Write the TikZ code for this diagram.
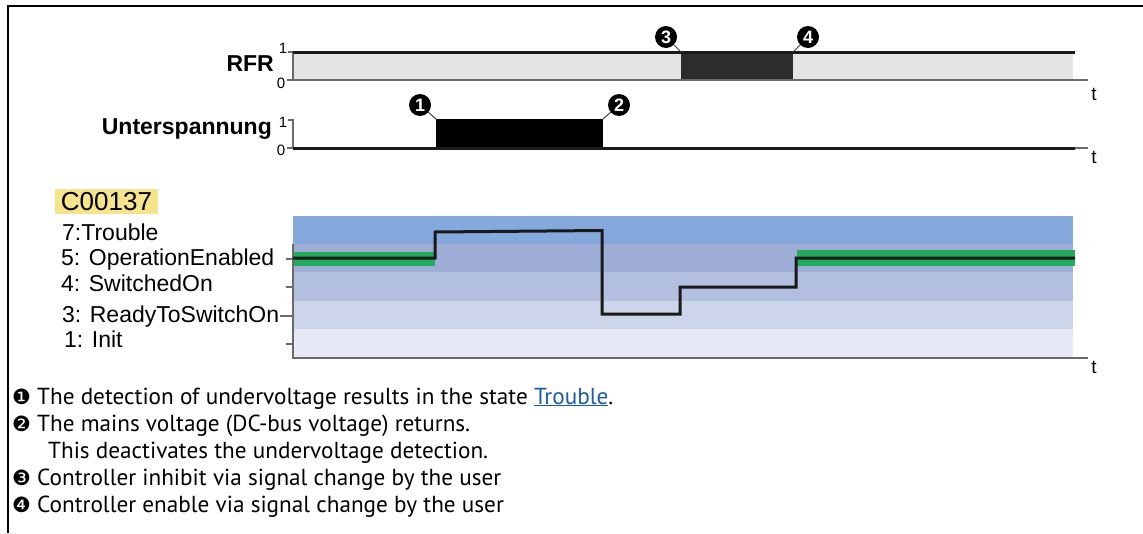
\documentclass[tikz,border=0pt]{standalone}
\usepackage{fontspec}
\setmainfont{Liberation Sans}
\newfontfamily\notefont{PT Sans}
\newfontfamily\symfont{DejaVu Sans}
\definecolor{bandA}{HTML}{86A9DD}
\definecolor{bandB}{HTML}{9EAED6}
\definecolor{bandC}{HTML}{B3BFDE}
\definecolor{bandD}{HTML}{CDD5EA}
\definecolor{bandE}{HTML}{E6E9F5}
\definecolor{greenc}{HTML}{22AB5C}
\definecolor{yellowc}{HTML}{F6E48C}
\definecolor{rfrgray}{HTML}{E4E4E4}
\definecolor{boxdark}{HTML}{2C2C2C}
\definecolor{linkc}{HTML}{1A5CA8}
\definecolor{axisc}{HTML}{6A6A6A}
\newcommand\bul[1]{{\symfont\fontsize{21}{21}\selectfont #1}}
\begin{document}
\begin{tikzpicture}[x=1pt,y=-1pt,
  sig/.style={line width=3pt, color=black!90, line join=miter},
  axisline/.style={line width=1.3pt, color=axisc},
  lbl/.style={font=\fontsize{23}{24}\selectfont, anchor=base west, inner sep=0},
  boldlbl/.style={font=\fontsize{23}{24}\selectfont\bfseries, anchor=base east, inner sep=0},
  lvl/.style={font=\fontsize{15}{15}\selectfont, inner sep=0},
  tlbl/.style={font=\fontsize{19}{20}\selectfont, inner sep=0, anchor=base},
  numcirc/.style={circle, fill=black, text=white, inner sep=0, minimum size=22pt, font=\fontsize{18}{18}\selectfont\bfseries},
  leader/.style={line width=1pt, color=black!75},
  note/.style={font=\notefont\fontsize{23.2}{24}\selectfont, anchor=base west, inner sep=0}
]
\useasboundingbox (0,0) rectangle (1143,533);
% frame
\draw[line width=2.5pt] (8,533) -- (8,6) -- (1143,6);

% ---------- RFR ----------
\fill[rfrgray] (293,52) rectangle (1073,80);
\fill[boxdark] (681,52) rectangle (793,80);
\draw[axisline] (287,80) -- (1088,80);
\draw[axisline] (288,52) -- (293,52) -- (293,80);
\draw[sig] (293,52) -- (1075,52);
\node[lvl] (rfrone) at (283,48) {1};
\node[lvl] (rfrzero) at (281,83) {0};
\node[boldlbl] (rfr) at (274,71) {RFR};
\node[tlbl] (tA) at (1094,100) {t};
\node[numcirc] (nthree) at (666,37) {3};
\node[numcirc] (nfour) at (808,37) {4};
\coordinate (cthree) at (681,52);
\coordinate (cfour) at (793,52);
\draw[leader] (nthree) -- (cthree);
\draw[leader] (nfour) -- (cfour);

% ---------- Unterspannung ----------
\draw[axisline] (288,120) -- (293,120) -- (293,148);
\draw[axisline] (287,148) -- (1088,148);
\fill[black] (436,119) rectangle (603,148);
\draw[sig] (293,148) -- (1075,148);
\node[lvl] (uone) at (283,122) {1};
\node[lvl] (uzero) at (281,150) {0};
\node[boldlbl] (unter) at (272,134) {Unterspannung};
\node[tlbl] (tB) at (1094,163) {t};
\node[numcirc] (none) at (420,105) {1};
\node[numcirc] (ntwo) at (619,105) {2};
\coordinate (cone) at (436,119);
\coordinate (ctwo) at (603,119);
\draw[leader] (none) -- (cone);
\draw[leader] (ntwo) -- (ctwo);

% ---------- C00137 ----------
\node[fill=yellowc, minimum width=103pt, minimum height=25pt, inner sep=0,
      font=\fontsize{26}{26}\selectfont] (code) at (106.5,201.5) {C00137};

\fill[bandA] (293,216) rectangle (1073,244);
\fill[bandB] (293,244) rectangle (1073,272);
\fill[bandC] (293,272) rectangle (1073,301);
\fill[bandD] (293,301) rectangle (1073,329);
\fill[bandE] (293,329) rectangle (1073,358);
\fill[greenc] (293,252) rectangle (435,266);
\fill[greenc] (797,250) rectangle (1075,266);
\draw[axisline] (293,244) -- (293,358) -- (1088,358);
\draw[axisline] (286,259) -- (293,259);
\draw[axisline] (286,287) -- (293,287);
\draw[axisline] (280,316) -- (293,316);
\draw[axisline] (286,344) -- (293,344);
\draw[sig] (293,258) -- (435,258) -- (435,232) -- (602,230.5) -- (602,314)
  -- (680,314) -- (680,287) -- (796,287) -- (796,258) -- (1075,258);
\node[lbl] (ssev) at (62,240) {7:Trouble};
\node[lbl] (sfive) at (61,265) {5: OperationEnabled};
\node[lbl] (sfour) at (61,291) {4: SwitchedOn};
\node[lbl] (sthree) at (62,322) {3: ReadyToSwitchOn};
\node[lbl] (sone) at (64,347) {1: Init};
\node[tlbl] (tC) at (1094,373) {t};

% ---------- notes ----------
\node[note] (lineA) at (12,404) {\bul{❶} The detection of undervoltage results in the state \textcolor{linkc}{\underline{Trouble}}.};
\node[note] (lineB) at (12,431) {\bul{❷} The mains voltage (DC-bus voltage) returns.};
\node[note] (lineC) at (48,458) {This deactivates the undervoltage detection.};
\node[note] (lineD) at (12,485) {\bul{❸} Controller inhibit via signal change by the user};
\node[note] (lineE) at (12,512) {\bul{❹} Controller enable via signal change by the user};
\end{tikzpicture}
\end{document}
